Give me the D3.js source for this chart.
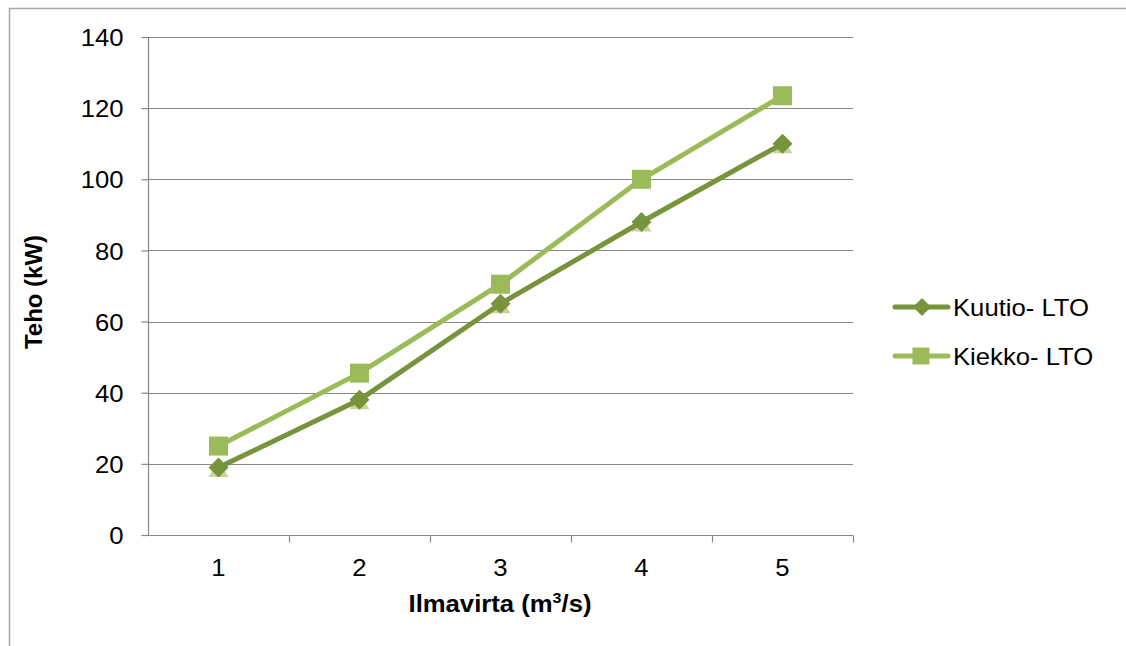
<!DOCTYPE html>
<html><head><meta charset="utf-8">
<script src="https://cdn.jsdelivr.net/npm/d3@7"></script>
<style>body{margin:0;background:#fff;}svg{display:block;font-family:"Liberation Sans",Arial,sans-serif;}</style>
</head><body>
<svg id="c" width="1126" height="646"></svg>
<script>
const categories = [1, 2, 3, 4, 5];
const kuutio = [19, 38, 65, 88, 110];
const kiekko = [25, 45.5, 70.5, 100, 123.5];
const hidden = [18.5, 37.5, 64.5, 87.5, 109.5];
const yTicks = [0, 20, 40, 60, 80, 100, 120, 140];
const seriesNames = ["Kuutio- LTO", "Kiekko- LTO"];

const SX = 1.07; // horizontal text stretch
const FS = 24;
const svg = d3.select("#c");
const m = {l:148, r:853, t:37, b:535};
const x = d3.scaleBand().domain(categories).range([m.l, m.r]);
const y = d3.scaleLinear().domain([0,140]).range([m.b, m.t]);
const cx = d => x(d) + x.bandwidth()/2;
const FF = "Liberation Sans, Arial, sans-serif";

// outer border
svg.append("path").attr("d","M9.5,646 V8.5 H1126").attr("fill","none").attr("stroke","#a6a6a6").attr("stroke-width",1.5);

// gridlines
svg.append("g").selectAll("line").data(yTicks.slice(1)).join("line")
  .attr("x1",m.l).attr("x2",m.r).attr("y1",d=>Math.round(y(d))+0.5).attr("y2",d=>Math.round(y(d))+0.5)
  .attr("stroke","#868686").attr("stroke-width",1.2);

// y axis
const ya = svg.append("g").attr("transform",`translate(${m.l+0.5},0)`)
  .call(d3.axisLeft(y).tickValues(yTicks).tickSize(7).tickPadding(18).tickFormat(d3.format("d")));
ya.select(".domain").attr("stroke","#868686").attr("stroke-width",1.2).attr("d",`M0,${m.b}V${m.t}`);
ya.selectAll(".tick line").attr("stroke","#868686").attr("stroke-width",1.2);
ya.selectAll(".tick text").attr("font-size",FS).attr("fill","#000").attr("font-family",FF)
  .attr("x",-25/SX).attr("dy","0.36em").attr("transform",`scale(${SX},1)`);

// x axis
const xa = svg.append("g").attr("transform",`translate(0,${Math.round(y(0))+0.5})`)
  .call(d3.axisBottom(x).tickSize(0).tickPadding(23));
xa.select(".domain").attr("stroke","#868686").attr("stroke-width",1.2).attr("d",`M${m.l},0H${m.r}`);
xa.selectAll(".tick text").attr("font-size",FS).attr("fill","#000").attr("font-family",FF)
  .attr("transform",`scale(${SX},1)`).attr("x",function(){ return 0; });
xa.selectAll(".tick").attr("transform",d=>`translate(${cx(d)},0)`);
xa.append("g").selectAll("line").data(d3.range(1,categories.length+1)).join("line")
  .attr("x1",i=>m.l+i*x.bandwidth()+0.5).attr("x2",i=>m.l+i*x.bandwidth()+0.5)
  .attr("y1",0).attr("y2",7).attr("stroke","#868686").attr("stroke-width",1.2);

// titles
svg.append("text").attr("transform","translate(42,292) rotate(-90) scale(1,1)").attr("text-anchor","middle")
  .attr("font-size",FS).attr("font-weight","bold").text("Teho (kW)");
const xt = svg.append("text").attr("transform",`translate(500,612) scale(${SX},1)`).attr("text-anchor","middle")
  .attr("font-size",FS).attr("font-weight","bold");
xt.append("tspan").text("Ilmavirta (m");
xt.append("tspan").attr("font-size",15).attr("dy",-9).text("3");
xt.append("tspan").attr("dy",9).text("/s)");

const cHidden = "#c3d69b", cKuutio = "#77933c", cKiekko = "#9bbb59";
const line = d3.line().x((d,i)=>cx(categories[i])).y(d=>y(d));

// hidden series triangles
const tri = d3.symbol().type(d3.symbolTriangle).size(170);
svg.append("g").selectAll("path").data(hidden).join("path")
  .attr("d",tri).attr("transform",(d,i)=>`translate(${cx(categories[i])},${y(d)+2})`).attr("fill",cHidden);

// Kuutio
svg.append("path").datum(kuutio).attr("d",line).attr("fill","none").attr("stroke",cKuutio).attr("stroke-width",5).attr("stroke-linejoin","round");
const dia = d => `M0,${-d}L${d},0L0,${d}L${-d},0Z`;
svg.append("g").selectAll("path").data(kuutio).join("path")
  .attr("d",dia(10)).attr("transform",(d,i)=>`translate(${cx(categories[i])},${y(d)})`).attr("fill",cKuutio);

// Kiekko
svg.append("path").datum(kiekko).attr("d",line).attr("fill","none").attr("stroke",cKiekko).attr("stroke-width",5).attr("stroke-linejoin","round");
svg.append("g").selectAll("rect").data(kiekko).join("rect")
  .attr("x",(d,i)=>cx(categories[i])-9.5).attr("y",d=>y(d)-9.5).attr("width",19).attr("height",19).attr("fill",cKiekko);

// legend
const lg = svg.append("g");
const ly = [307, 356];
[cKuutio, cKiekko].forEach((c,i)=>{
  lg.append("line").attr("x1",895).attr("x2",948).attr("y1",ly[i]).attr("y2",ly[i]).attr("stroke",c).attr("stroke-width",5).attr("stroke-linecap","round");
  if(i===0) lg.append("path").attr("d",dia(9)).attr("transform",`translate(922,${ly[i]})`).attr("fill",c);
  else lg.append("rect").attr("x",912.5).attr("y",ly[i]-8.5).attr("width",17).attr("height",17).attr("fill",c);
  lg.append("text").attr("transform",`translate(953,${ly[i]+9}) scale(${SX},1)`).attr("font-size",FS).attr("fill","#000").text(seriesNames[i]);
});
</script>
</body></html>
